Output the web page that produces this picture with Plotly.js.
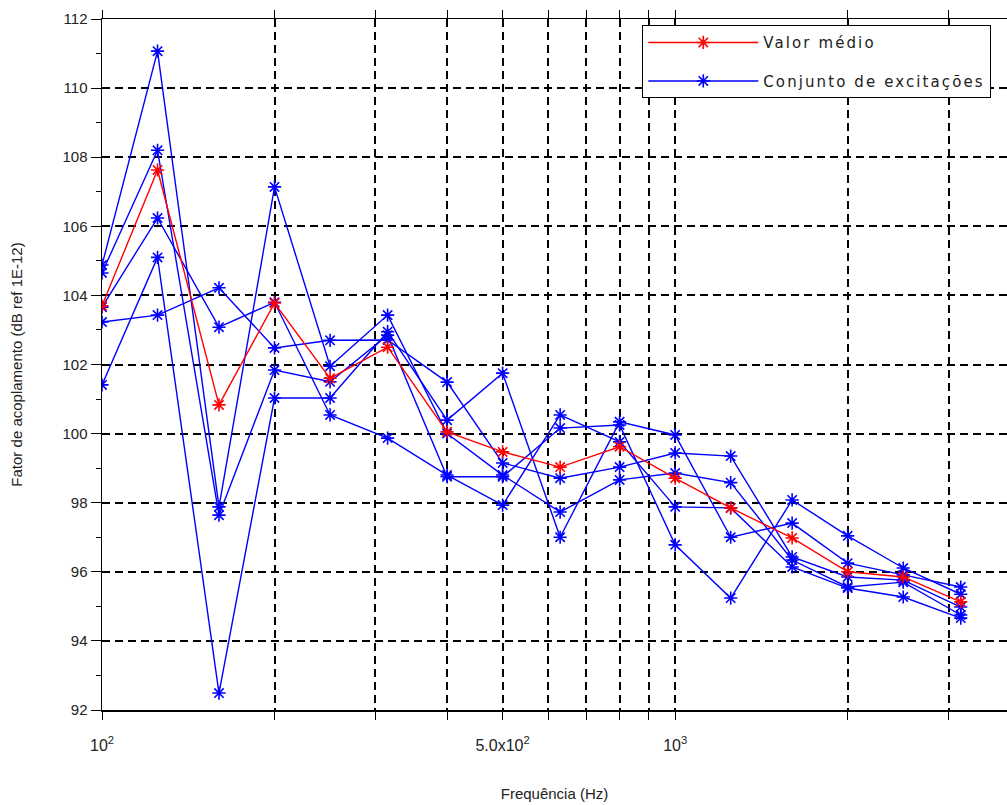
<!DOCTYPE html>
<html>
<head>
<meta charset="utf-8">
<script src="https://cdn.plot.ly/plotly-3.0.1.min.js"></script>
<style>html,body{margin:0;padding:0;background:#fff;}#chart{width:1007px;height:805px;}
.legendtext{letter-spacing:2.1px;}</style>
</head>
<body>
<div id="chart"></div>
<script>
// Third-octave band centre frequencies (Hz)
const freq = [100,125,160,200,250,315,400,500,630,800,1000,1250,1600,2000,2500,3150];

// Mean value (red)
const valorMedio = [103.7,107.63,100.83,103.78,101.6,102.5,100.05,99.47,99.03,99.62,98.71,97.85,96.98,96.0,95.85,95.13];

// Set of excitations (blue)
const excA = [103.23,103.43,104.22,102.48,102.7,102.71,101.49,99.15,98.71,99.03,99.44,99.35,96.43,95.85,95.76,94.98];
const excB = [101.41,105.1,92.49,101.03,101.03,102.95,100.39,101.75,97.0,100.34,99.96,97.0,97.41,96.25,95.91,95.56];
const excC = [104.88,111.07,97.88,107.14,101.95,103.43,100.0,98.8,97.73,98.66,98.86,98.58,96.34,95.56,95.7,94.75];
const excD = [104.65,108.2,97.64,101.84,101.5,102.85,98.75,98.75,100.16,100.25,96.78,95.24,98.08,97.04,96.11,95.35];
const excE = [103.66,106.24,103.08,103.8,100.54,99.87,98.8,97.93,100.54,99.76,97.88,97.85,96.14,95.53,95.27,94.66];

// Axis ticks
const xTickVals = [100,200,300,400,500,600,700,800,900,1000,2000,3000];
const xTickText = ['10<sup>2</sup>','','','','5.0x10<sup>2</sup>','','','','','10<sup>3</sup>','',''];
const yTickVals = [92,94,96,98,100,102,104,106,108,110,112];

const excitacoes = [excA, excB, excC, excD, excE];

const traces = [];
excitacoes.forEach((ys, i) => {
  traces.push({
    x: freq, y: ys, type: 'scatter', mode: 'lines+markers',
    name: 'Conjunto de excitações',
    legendgroup: 'exc', showlegend: i === 0, legendrank: 2,
    line: {color: '#0000ff', width: 1.4},
    marker: {symbol: 'asterisk-open', size: 11, color: '#0000ff', line: {color: '#0000ff', width: 1.6}}
  });
});
traces.push({
  x: freq, y: valorMedio, type: 'scatter', mode: 'lines+markers',
  name: 'Valor médio', legendgroup: 'mean', legendrank: 1,
  line: {color: '#ff0000', width: 1.4},
  marker: {symbol: 'asterisk-open', size: 11, color: '#ff0000', line: {color: '#ff0000', width: 1.6}}
});

const fontFam = '"Liberation Sans", Arial, sans-serif';
const legFam = '"DejaVu Sans", sans-serif';

const layout = {
  width: 1007, height: 805,
  margin: {l: 102, r: 0, t: 19, b: 95},
  paper_bgcolor: '#ffffff', plot_bgcolor: '#ffffff',
  font: {family: fontFam, size: 15, color: '#222'},
  showlegend: true,
  legend: {
    x: 0.597, y: 0.991, xanchor: 'left', yanchor: 'top',
    bgcolor: '#ffffff', bordercolor: '#000000', borderwidth: 1,
    font: {family: legFam, size: 15, color: '#222'},
    traceorder: 'grouped', tracegroupgap: 16,
    itemwidth: 110
  },
  xaxis: {
    type: 'log',
    range: [2, 3.579],
    tickmode: 'array', tickvals: xTickVals, ticktext: xTickText,
    ticks: 'outside', ticklen: 8, tickwidth: 1, tickcolor: '#000',
    ticklabelstandoff: 12,
    showline: true, linecolor: '#000', linewidth: 1.5, mirror: 'ticks',
    showgrid: true, gridcolor: '#000', gridwidth: 2, griddash: '8px,5px',
    zeroline: false,
    tickfont: {family: fontFam, size: 16, color: '#222'},
    title: {text: 'Frequência (Hz)', font: {family: fontFam, size: 15, color: '#222'}, standoff: 36}
  },
  yaxis: {
    range: [92, 112],
    tickmode: 'array', tickvals: yTickVals,
    ticks: 'outside', ticklen: 10, tickwidth: 1, tickcolor: '#000',
    minor: {dtick: 1, ticks: 'outside', ticklen: 5, tickcolor: '#000', showgrid: false},
    showline: true, linecolor: '#000', linewidth: 1.5,
    showgrid: true, gridcolor: '#000', gridwidth: 2, griddash: '8px,5px',
    zeroline: false,
    tickfont: {family: fontFam, size: 15, color: '#222'},
    title: {text: 'Fator de acoplamento (dB ref 1E-12)', font: {family: fontFam, size: 15, color: '#222'}, standoff: 36}
  }
};

Plotly.newPlot('chart', traces, layout, {displayModeBar: false, staticPlot: true});
</script>
</body>
</html>
